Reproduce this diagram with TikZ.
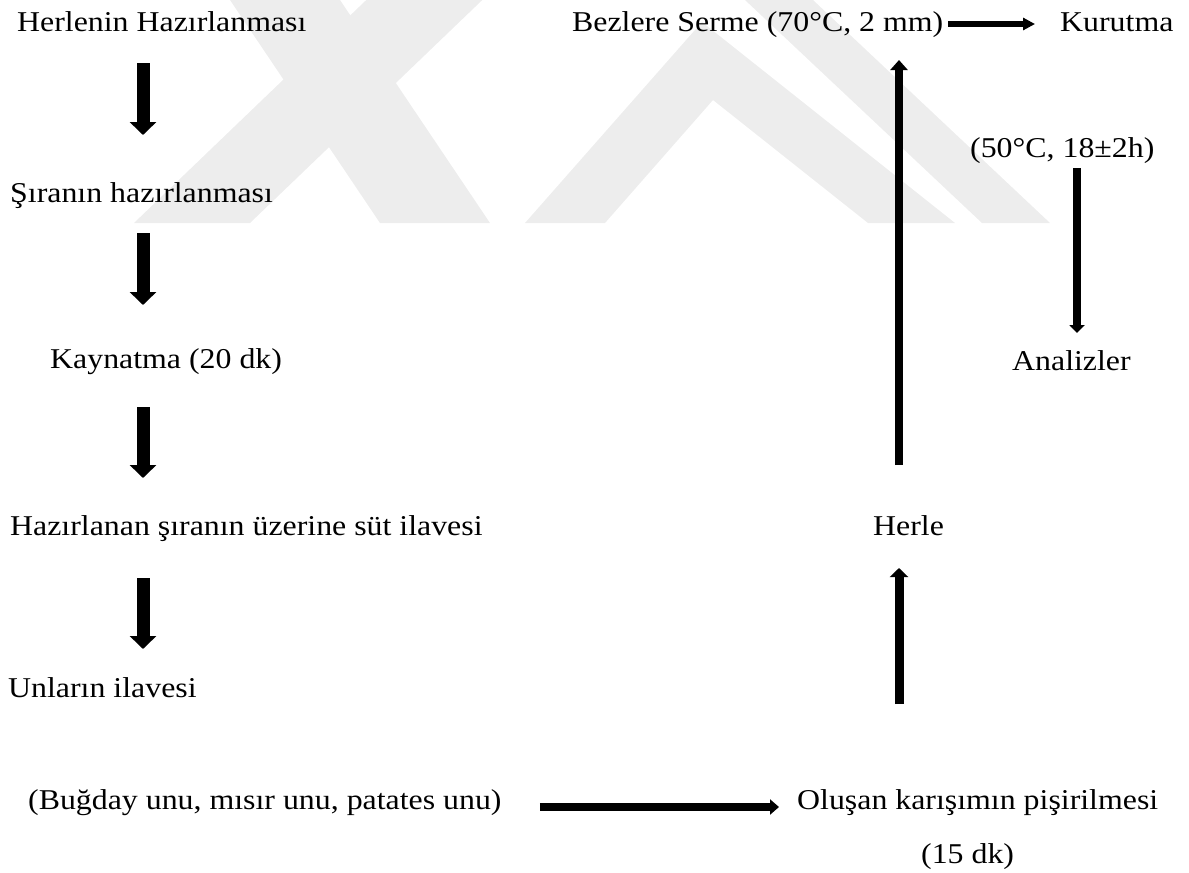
\documentclass[tikz,border=0pt]{standalone}
\usepackage{fontspec}
\setmainfont{Liberation Serif}[FakeStretch=1.11]
\usetikzlibrary{arrows.meta,calc}
\newcommand\fs{\fontsize{28.7}{34}\selectfont}
\definecolor{wmark}{gray}{0.93}
\begin{document}
\begin{tikzpicture}[x=1pt,y=-1pt,
  txt/.style={anchor=base west, inner sep=0pt, font=\fs},
  wm/.style={fill=wmark, draw=none},
  bigarr/.style={line width=13pt, -{Triangle[width=26pt,length=13pt]}},
  uparrA/.style={line width=9pt, -{Triangle[width=18pt,length=9pt]}},
  uparrB/.style={line width=7.5pt, -{Triangle[width=17pt,length=10pt]}},
  toparr/.style={line width=6pt, -{Triangle[width=12pt,length=12pt]}},
  botarr/.style={line width=7.5pt, -{Triangle[width=15pt,length=9pt]}},
  dnarr/.style={line width=8pt, -{Triangle[width=15pt,length=8pt]}}]
\useasboundingbox (0,0) rectangle (1189,873);
% faint watermark
\begin{scope}
\clip (0,0) rectangle (1189,223);
\fill[wm] (134,223) -- (250,223) -- (500,-17) -- (384,-17) -- cycle;
\fill[wm] (230,0) -- (340,0) -- (490,223) -- (380,223) -- cycle;
\fill[wm] (525,223) -- (702,22) -- (955,223) -- (868,223) -- (713,100) -- (605,223) -- cycle;
\fill[wm] (745,0) -- (813,0) -- (1050,223) -- (982,223) -- cycle;
\end{scope}
% columns
\coordinate (colL) at (143,0);
\coordinate (colM) at (899,0);
\coordinate (colR) at (1077,0);
% left column
\node[txt] (n1) at (17,31) {Herlenin Hazırlanması};
\node[txt] (n2) at (10,202) {Şıranın hazırlanması};
\node[txt] (n3) at (50,368) {Kaynatma (20 dk)};
\node[txt] (n4) at (10,535) {Hazırlanan şıranın üzerine süt ilavesi};
\node[txt] (n5) at (8,697) {Unların ilavesi};
\node[txt] (n6) at (28,809) {(Buğday unu, mısır unu, patates unu)};
% right part
\node[txt] (n7) at (797,809) {Oluşan karışımın pişirilmesi};
\node[txt] (n8) at (921,863) {(15 dk)};
\node[txt] (n9) at (873,535) {Herle};
\node[txt] (n10) at (572,31) {Bezlere Serme (70°C, 2 mm)};
\node[txt] (n11) at (1060,31) {Kurutma};
\node[txt] (n12) at (970,157) {(50°C, 18±2h)};
\node[txt] (n13) at (1012,370) {Analizler};
% left arrows
\draw[bigarr] ($(n1.base -| colL)+(0,32)$) -- ($(n1.base -| colL)+(0,104)$);
\draw[bigarr] ($(n2.base -| colL)+(0,31)$) -- ($(n2.base -| colL)+(0,103)$);
\draw[bigarr] ($(n3.base -| colL)+(0,39)$) -- ($(n3.base -| colL)+(0,110)$);
\draw[bigarr] ($(n4.base -| colL)+(0,43)$) -- ($(n4.base -| colL)+(0,114)$);
% bottom horizontal
\draw[botarr] ($(n6.base east)+(38,-2)$) -- ($(n7.base west)+(-18,-2)$);
% up arrows
\draw[uparrA] ($(n7.base -| colM)+(0,-105)$) -- ($(n9.base -| colM)+(0,33)$);
\draw[uparrB] ($(n9.base -| colM)+(0,-70)$) -- ($(n10.base -| colM)+(0,29)$);
% top right
\draw[toparr] ($(n10.base east)+(5,-7)$) -- ($(n11.base west)+(-25,-7)$);
% down right
\draw[dnarr] ($(n12.base -| colR)+(0,11)$) -- ($(n13.base -| colR)+(0,-37)$);
\end{tikzpicture}
\end{document}
